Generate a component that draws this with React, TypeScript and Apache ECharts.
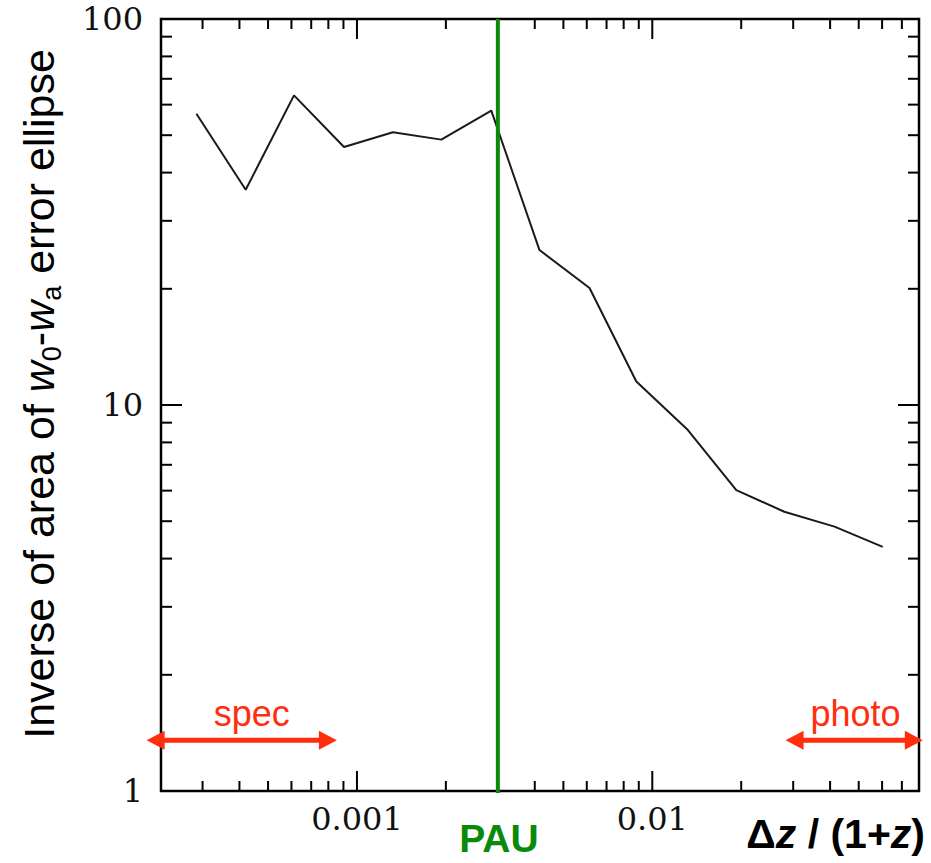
import React, { useEffect, useRef } from 'react';
import * as echarts from 'echarts';

// ---- data ----
const dzValues = [0.000286, 0.00042, 0.000612, 0.000904, 0.001324, 0.00193, 0.00285, 0.00415, 0.00613, 0.00883, 0.0132, 0.01925, 0.028, 0.0414, 0.0603];
const invAreaValues = [56.8, 36.1, 63.4, 46.6, 50.9, 48.7, 57.9, 25.2, 20.1, 11.5, 8.61, 6.02, 5.29, 4.84, 4.29];

const pauDz = [0.003];
const pauLabel = ['PAU'];

const xMin = 0.000217;
const xMax = 0.08;
const yMin = 1;
const yMax = 100;

const xTickValues = [0.001, 0.01];
const xTickLabels = ['0.001', '0.01'];
const yTickValues = [1, 10, 100];
const yTickLabels = ['1', '10', '100'];
const xMinorTicks = [0.0003, 0.0004, 0.0005, 0.0006, 0.0007, 0.0008, 0.0009, 0.002, 0.003, 0.004, 0.005, 0.006, 0.007, 0.008, 0.009, 0.02, 0.03, 0.04, 0.05, 0.06, 0.07];
const yMinorTicks = [2, 3, 4, 5, 6, 7, 8, 9, 20, 30, 40, 50, 60, 70, 80, 90];

const rangeNames = ['spec', 'photo'];
const rangeFrom = [0.000194, 0.02827];
const rangeTo = [0.000855, 0.0824];
const rangeY = [1.353, 1.353];
const rangeLabelX = [0.00044, 0.0488];

const GREEN = '#0a8a0a';
const RED = '#ff2e0e';
const SERIF = '"DejaVu Serif", serif';
const SANS = '"Liberation Sans", Arial, sans-serif';

function labelFor(v: number, values: number[], labels: string[]) {
  for (let i = 0; i < values.length; i++) {
    if (Math.abs(Math.log10(v) - Math.log10(values[i])) < 1e-6) return labels[i];
  }
  return '';
}

export default function App() {
  const ref = useRef<HTMLDivElement>(null);
  useEffect(() => {
    if (!ref.current) return;
    const chart = echarts.init(ref.current, null, { renderer: 'svg' });

    const xTickData = [
      ...xMinorTicks.map((v) => [v, yMin, 0]),
      ...xTickValues.map((v) => [v, yMin, 1]),
    ];
    const yTickData = [
      ...yMinorTicks.map((v) => [xMin, v, 0]),
      ...yTickValues.map((v) => [xMin, v, 1]),
    ];
    const rangeData = rangeNames.map((_, i) => [rangeFrom[i], rangeTo[i], rangeY[i], rangeLabelX[i]]);
    const pauData = pauDz.map((v) => [v, yMin]);

    const option: any = {
      animation: false,
      backgroundColor: '#fff',
      grid: {
        left: 161,
        right: 12,
        top: 19,
        bottom: 72,
        show: true,
        borderColor: '#000',
        borderWidth: 2.5,
        containLabel: false,
        outerBoundsMode: 'none',
      },
      xAxis: {
        type: 'log',
        logBase: 10,
        min: xMin,
        max: xMax,
        axisLine: { show: false },
        axisTick: { show: false },
        splitLine: { show: false },
        minorTick: { show: false },
        axisLabel: {
          margin: 12,
          color: '#111',
          fontSize: 32,
          fontFamily: SERIF,
          showMinLabel: false,
          showMaxLabel: false,
          formatter: (v: number) => labelFor(v, xTickValues, xTickLabels),
        },
      },
      yAxis: {
        type: 'log',
        logBase: 10,
        min: yMin,
        max: yMax,
        axisLine: { show: false },
        axisTick: { show: false },
        splitLine: { show: false },
        minorTick: { show: false },
        axisLabel: {
          margin: 18,
          color: '#111',
          fontSize: 32,
          fontFamily: SERIF,
          formatter: (v: number) => labelFor(v, yTickValues, yTickLabels),
        },
      },
      graphic: [
        {
          type: 'text',
          x: 39,
          y: 394,
          rotation: Math.PI / 2,
          style: {
            text: 'Inverse of area of {i|w}{sub|0}-{i|w}{sub|a} error ellipse',
            font: '43px "Liberation Sans", Arial, sans-serif',
            fill: '#000',
            align: 'center',
            verticalAlign: 'middle',
            rich: {
              i: { fontStyle: 'italic', fontSize: 43, fontFamily: SANS, lineHeight: 48, verticalAlign: 'middle' },
              sub: { fontSize: 27, fontFamily: SANS, lineHeight: 27, verticalAlign: 'bottom', padding: [0, 0, -2, 0] },
            },
          },
        },
        {
          type: 'text',
          right: 6,
          top: 813,
          style: {
            text: '{b|\u0394}{bi|z}{b| / (1+}{bi|z}{b|)}',
            fill: '#000',
            rich: {
              b: { fontWeight: 'bold', fontSize: 41, fontFamily: SANS },
              bi: { fontWeight: 'bold', fontStyle: 'italic', fontSize: 41, fontFamily: SANS },
            },
          },
        },
      ],
      series: [
        {
          type: 'custom',
          name: 'xTicks',
          silent: true,
          clip: false,
          encode: { x: 0, y: 1 },
          data: xTickData,
          renderItem: (params: any, api: any) => {
            const v = api.value(0);
            const major = api.value(2) === 1;
            const b = api.coord([v, yMin]);
            const t = api.coord([v, yMax]);
            const len = major ? 20 : 10;
            const st = { stroke: '#000', lineWidth: 2 };
            return {
              type: 'group',
              children: [
                { type: 'line', shape: { x1: b[0], y1: b[1], x2: b[0], y2: b[1] - len }, style: st },
                { type: 'line', shape: { x1: t[0], y1: t[1], x2: t[0], y2: t[1] + len }, style: st },
              ],
            };
          },
        },
        {
          type: 'custom',
          name: 'yTicks',
          silent: true,
          clip: false,
          encode: { x: 0, y: 1 },
          data: yTickData,
          renderItem: (params: any, api: any) => {
            const v = api.value(1);
            const major = api.value(2) === 1;
            const l = api.coord([xMin, v]);
            const r = api.coord([xMax, v]);
            const len = major ? 21 : 11;
            const st = { stroke: '#000', lineWidth: 2 };
            return {
              type: 'group',
              children: [
                { type: 'line', shape: { x1: l[0], y1: l[1], x2: l[0] + len, y2: l[1] }, style: st },
                { type: 'line', shape: { x1: r[0], y1: r[1], x2: r[0] - len, y2: r[1] }, style: st },
              ],
            };
          },
        },
        {
          type: 'line',
          name: 'inverse area',
          data: dzValues.map((x, i) => [x, invAreaValues[i]]),
          showSymbol: false,
          symbol: 'none',
          lineStyle: { color: '#1a1a1a', width: 2 },
          z: 3,
        },
        {
          type: 'custom',
          name: 'PAU',
          silent: true,
          clip: false,
          encode: { x: 0, y: 1 },
          data: pauData,
          z: 4,
          renderItem: (params: any, api: any) => {
            const v = api.value(0);
            const b = api.coord([v, yMin]);
            const t = api.coord([v, yMax]);
            return {
              type: 'group',
              children: [
                { type: 'line', shape: { x1: b[0], y1: b[1] + 2, x2: t[0], y2: t[1] }, style: { stroke: GREEN, lineWidth: 4 } },
                {
                  type: 'text',
                  x: b[0] + 1,
                  y: b[1] + 47,
                  style: { text: pauLabel[params.dataIndex], fill: GREEN, font: 'bold 39px "Liberation Sans", Arial, sans-serif', align: 'center', verticalAlign: 'middle' },
                },
              ],
            };
          },
        },
        {
          type: 'custom',
          name: 'ranges',
          silent: true,
          clip: false,
          encode: { x: [0, 1, 3], y: 2 },
          data: rangeData,
          z: 5,
          renderItem: (params: any, api: any) => {
            const i = params.dataIndex;
            const y = api.value(2);
            const a = api.coord([api.value(0), y]);
            const b = api.coord([api.value(1), y]);
            const t = api.coord([api.value(3), y]);
            const head = 18;
            const half = 9.5;
            return {
              type: 'group',
              children: [
                { type: 'line', shape: { x1: a[0] + head - 2, y1: a[1], x2: b[0] - head + 2, y2: b[1] }, style: { stroke: RED, lineWidth: 5 } },
                { type: 'polygon', shape: { points: [[a[0], a[1]], [a[0] + head, a[1] - half], [a[0] + head, a[1] + half]] }, style: { fill: RED } },
                { type: 'polygon', shape: { points: [[b[0], b[1]], [b[0] - head, b[1] - half], [b[0] - head, b[1] + half]] }, style: { fill: RED } },
                {
                  type: 'text',
                  x: t[0],
                  y: t[1] - 27,
                  style: { text: rangeNames[i], fill: RED, font: '36px "Liberation Sans", Arial, sans-serif', align: 'center', verticalAlign: 'middle' },
                },
              ],
            };
          },
        },
      ],
    };

    chart.setOption(option);
    return () => chart.dispose();
  }, []);

  return <div ref={ref} style={{ position: 'fixed', left: 0, top: 0, width: 931, height: 863, background: '#fff' }} />;
}
